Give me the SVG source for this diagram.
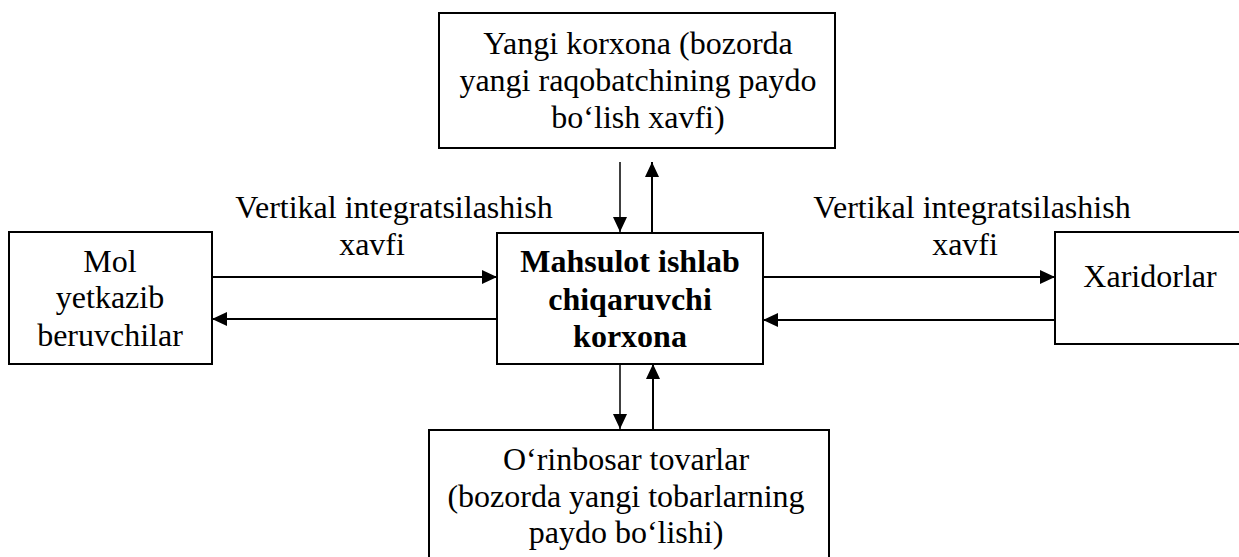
<svg xmlns="http://www.w3.org/2000/svg" width="1239" height="557" viewBox="0 0 1239 557">
<style>
.box{fill:#fff;stroke:#000;stroke-width:2}
.t{font-family:"Liberation Serif","Times New Roman",serif;font-size:32px;fill:#000;text-anchor:middle}
.b{font-weight:bold}
.c{stroke:#000;stroke-width:2;fill:none;marker-end:url(#ah)}
.thin{stroke-width:1.5}
</style>
<defs>
<marker id="ah" markerUnits="userSpaceOnUse" markerWidth="16" markerHeight="14" viewBox="0 0 16 14" refX="15" refY="7" orient="auto">
<path d="M0,0 L15,7 L0,14 Z" fill="#000"/>
</marker>
</defs>
<rect width="1239" height="557" fill="#fff"/>
<g id="connectors">
<line class="c thin" x1="620" y1="162" x2="620" y2="232"/>
<line class="c" x1="652" y1="232" x2="652" y2="162"/>
<line class="c thin" x1="620" y1="364" x2="620" y2="429"/>
<line class="c" x1="653" y1="429" x2="653" y2="364"/>
<line class="c" x1="212" y1="277" x2="497" y2="277"/>
<line class="c" x1="497" y1="319" x2="212" y2="319"/>
<line class="c" x1="763" y1="277" x2="1055" y2="277"/>
<line class="c" x1="1055" y1="320" x2="763" y2="320"/>
<text class="t" x="394" y="218">Vertikal integratsilashish</text>
<text class="t" x="372" y="255">xavfi</text>
<text class="t" x="972" y="218">Vertikal integratsilashish</text>
<text class="t" x="965" y="255">xavfi</text>
</g>
<g id="top">
<rect class="box" x="439" y="13" width="396" height="135"/>
<text class="t" x="638" y="54">Yangi korxona (bozorda</text>
<text class="t" x="638" y="91">yangi raqobatchining paydo</text>
<text class="t" x="638" y="128">bo‘lish xavfi)</text>
</g>
<g id="center">
<rect class="box" x="497" y="233" width="266" height="131"/>
<text class="t b" x="630" y="272">Mahsulot ishlab</text>
<text class="t b" x="630" y="310">chiqaruvchi</text>
<text class="t b" x="630" y="347">korxona</text>
</g>
<g id="left">
<rect class="box" x="9" y="232" width="203" height="132"/>
<text class="t" x="110" y="272">Mol</text>
<text class="t" x="110" y="308">yetkazib</text>
<text class="t" x="110" y="346">beruvchilar</text>
</g>
<g id="right">
<rect class="box" x="1055" y="232" width="200" height="112"/>
<text class="t" x="1150" y="287">Xaridorlar</text>
</g>
<g id="bottom">
<rect class="box" x="429" y="430" width="400" height="140"/>
<text class="t" x="626" y="470">O‘rinbosar tovarlar</text>
<text class="t" x="626" y="507">(bozorda yangi tobarlarning</text>
<text class="t" x="626" y="543">paydo bo‘lishi)</text>
</g>
</svg>
